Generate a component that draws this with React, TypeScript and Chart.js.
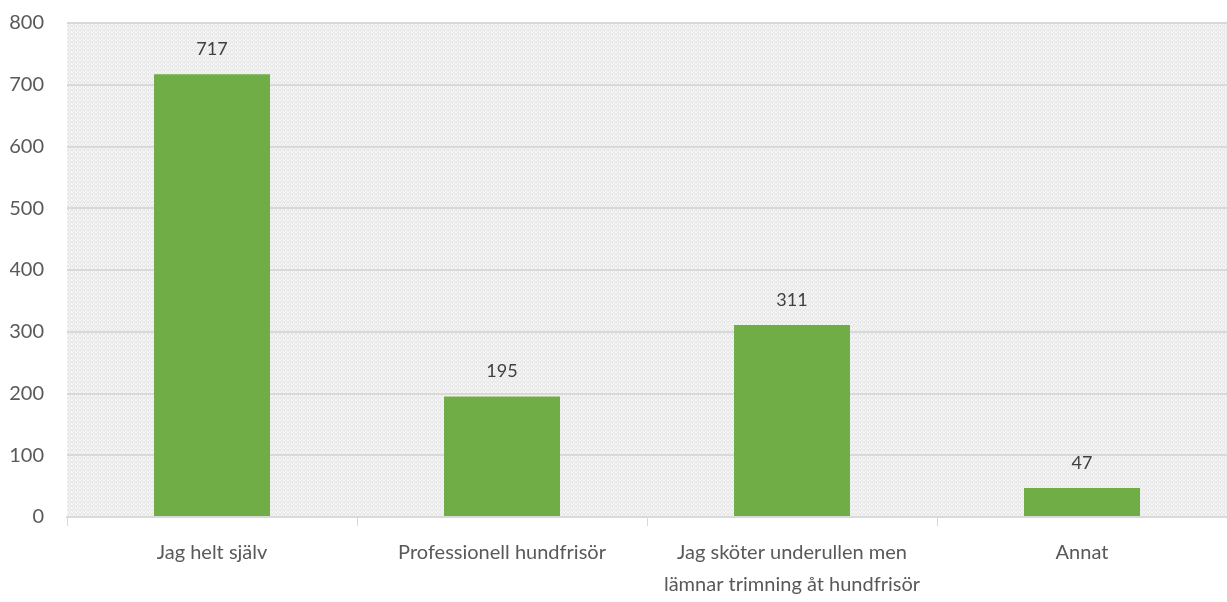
import React, { useEffect, useRef } from "react";
import { Chart, registerables } from "chart.js";

Chart.register(...registerables);

const categories: (string | string[])[] = [
  "Jag helt själv",
  "Professionell hundfrisör",
  ["Jag sköter underullen men", "lämnar trimning åt hundfrisör"],
  "Annat",
];
const values: number[] = [717, 195, 311, 47];
const yTicks: number[] = [0, 100, 200, 300, 400, 500, 600, 700, 800];

const FONT = "Lato, 'Open Sans', sans-serif";

function makePattern(ctx: CanvasRenderingContext2D): CanvasPattern | string {
  const c = document.createElement("canvas");
  c.width = 4;
  c.height = 4;
  const p = c.getContext("2d");
  if (!p) return "#efefef";
  p.fillStyle = "#e8e8e8";
  p.fillRect(0, 0, 4, 4);
  p.fillStyle = "#f8f8f8";
  const dots = [[0, 0], [2, 1], [1, 2], [3, 3], [3, 0], [1, 3]];
  dots.forEach(([x, y]) => p.fillRect(x, y, 1, 1));
  return ctx.createPattern(c, "repeat") || "#efefef";
}

const bgPlugin = {
  id: "plotBg",
  beforeDraw(chart: any) {
    const { ctx, chartArea } = chart;
    ctx.save();
    ctx.fillStyle = makePattern(ctx);
    ctx.fillRect(chartArea.left, chartArea.top, chartArea.right - chartArea.left, chartArea.bottom - chartArea.top);
    ctx.restore();
  },
};

const labelPlugin = {
  id: "valueLabels",
  afterDatasetsDraw(chart: any) {
    const { ctx } = chart;
    const meta = chart.getDatasetMeta(0);
    ctx.save();
    ctx.fillStyle = "#404040";
    ctx.font = `18px ${FONT}`;
    ctx.textAlign = "center";
    ctx.textBaseline = "middle";
    meta.data.forEach((bar: any, i: number) => {
      ctx.fillText(String(values[i]), bar.x, bar.y - 25);
    });
    ctx.restore();
  },
};

export default function App() {
  const ref = useRef<HTMLCanvasElement>(null);
  useEffect(() => {
    document.body.style.margin = "0";
    if (!ref.current) return;
    const chart = new Chart(ref.current, {
      type: "bar",
      data: {
        labels: categories,
        datasets: [
          {
            data: values,
            backgroundColor: "#70ad47",
            barPercentage: 0.4,
            categoryPercentage: 1,
          },
        ],
      },
      options: {
        animation: false,
        responsive: false,
        maintainAspectRatio: false,
        layout: { padding: { top: 23, right: 0, left: 10, bottom: 0 } },
        plugins: { legend: { display: false }, tooltip: { enabled: false } },
        scales: {
          x: {
            afterFit: (s: any) => {
              s.height = 85;
            },
            grid: {
              display: true,
              drawOnChartArea: false,
              drawTicks: true,
              tickLength: 9,
              color: "#d9d9d9",
              lineWidth: 1,
              offset: true,
            },
            border: { display: true, color: "#d9d9d9", width: 2 },
            ticks: {
              color: "#595959",
              font: { family: FONT, size: 20, lineHeight: 1.6 },
              padding: 11,
              maxRotation: 0,
              autoSkip: false,
            },
          },
          y: {
            min: 0,
            max: 800,
            afterBuildTicks: (axis: any) => {
              axis.ticks = yTicks.map((v) => ({ value: v }));
            },
            afterFit: (s: any) => {
              s.width = 57;
              s.paddingTop = 0;
              s.paddingBottom = 0;
            },
            grid: { color: "#d9d9d9", lineWidth: 2, drawTicks: false },
            border: { display: false },
            ticks: {
              color: "#595959",
              font: { family: FONT, size: 20 },
              padding: 23,
            },
          },
        },
      },
      plugins: [bgPlugin, labelPlugin],
    });
    return () => chart.destroy();
  }, []);
  return (
    <div style={{ width: 1227, height: 602 }}>
      <canvas ref={ref} width={1227} height={602} style={{ display: "block" }} />
    </div>
  );
}
